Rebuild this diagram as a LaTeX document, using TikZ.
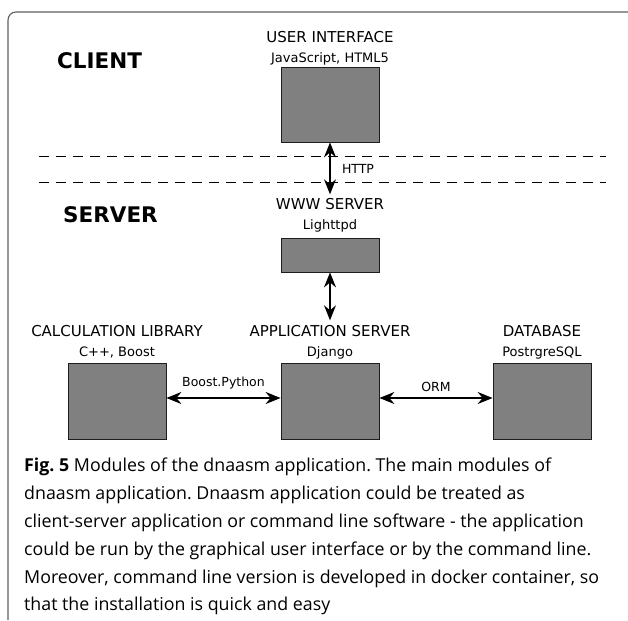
\documentclass[tikz,border=0pt]{standalone}
\usepackage{fontspec}
\setmainfont{DejaVu Sans}
\newfontfamily\capfont{Open Sans}
\usetikzlibrary{arrows.meta,positioning}
\usepackage{xcolor}
\definecolor{modgray}{RGB}{128,128,128}
\definecolor{lineblack}{RGB}{30,30,30}
\definecolor{framegray}{RGB}{95,95,95}
\frenchspacing

\begin{document}
\begin{tikzpicture}[
  x=1pt, y=-1pt,
  module/.style={rectangle, draw=lineblack, fill=modgray, minimum width=98pt, minimum height=76pt, inner sep=0pt, line width=0.8pt},
  modttl/.style={font=\fontsize{15}{17}\selectfont, inner sep=0pt, text height=11pt, text depth=3.5pt},
  tech/.style={font=\fontsize{13}{15}\selectfont, inner sep=0pt, text height=9.5pt, text depth=3pt},
  tier/.style={font=\fontsize{21.5}{24}\selectfont\bfseries, inner sep=0pt, anchor=west},
  lbl/.style={font=\fontsize{12.5}{14}\selectfont, inner sep=0pt},
  arr/.style={{Stealth[length=15pt,width=12pt,inset=5pt]}-{Stealth[length=15pt,width=12pt,inset=5pt]}, line width=1.2pt}
]
\useasboundingbox (0,0) rectangle (628,620);
\draw[framegray, line width=1.1pt, rounded corners=8pt] (8,620) -- (8,12) -- (628,12);

% client side
\node[tier] (client) at (57,61) {CLIENT};
\node[module, minimum height=75pt] (ui) at (330,104.5) {};
\node[tech, above=1pt of ui] (uitech) {JavaScript, HTML5};
\node[modttl, above=6.5pt of uitech] (uittl) {USER INTERFACE};

\draw[dashed, dash pattern=on 10pt off 7pt, line width=0.8pt] (39,156) -- (606,156);
\draw[dashed, dash pattern=on 10pt off 7pt, line width=0.8pt] (39,182) -- (606,182);

% server side
\node[tier] (server) at (63,215) {SERVER};
\node[module, minimum height=34pt] (www) at (330,255) {};
\node[tech, above=5pt of www] (wwwtech) {Lighttpd};
\node[modttl, above=6.5pt of wwwtech] (wwwttl) {WWW SERVER};

\node[module] (calc) at (117,401) {};
\node[module] (app) at (330,401) {};
\node[module] (db) at (542,401) {};
\node[tech, above=3pt of calc] (calctech) {C++, Boost};
\node[tech, above=3pt of app] (apptech) {Django};
\node[tech, above=3pt of db] (dbtech) {PostrgreSQL};
\node[modttl, above=6.5pt of calctech] (calcttl) {CALCULATION LIBRARY};
\node[modttl, above=6.5pt of apptech] (appttl) {APPLICATION SERVER};
\node[modttl, above=6.5pt of dbtech] (dbttl) {DATABASE};

\draw[arr, shorten >=4pt] (ui) -- (wwwttl);
\node[lbl] (http) at (358,169) {HTTP};
\draw[arr, shorten >=5pt] (www) -- (appttl);
\draw[arr] ([yshift=3pt]calc.east) -- node[lbl, above=8pt] (bpy) {Boost.Python} ([yshift=3pt]app.west);
\draw[arr] ([yshift=3pt]app.east) -- node[lbl, above=6pt] (orm) {ORM} ([yshift=3pt]db.west);

% caption
\node[anchor=north west, inner sep=0pt, align=left, font=\capfont\fontsize{17.8}{27.8}\selectfont] (cap) at (24,458)
  {\textbf{Fig. 5} Modules of the dnaasm application. The main modules of\\
   dnaasm application. Dnaasm application could be treated as\\
   client-server application or command line software - the application\\
   could be run by the graphical user interface or by the command line.\\
   Moreover, command line version is developed in docker container, so\\
   that the installation is quick and easy};
\end{tikzpicture}
\end{document}
